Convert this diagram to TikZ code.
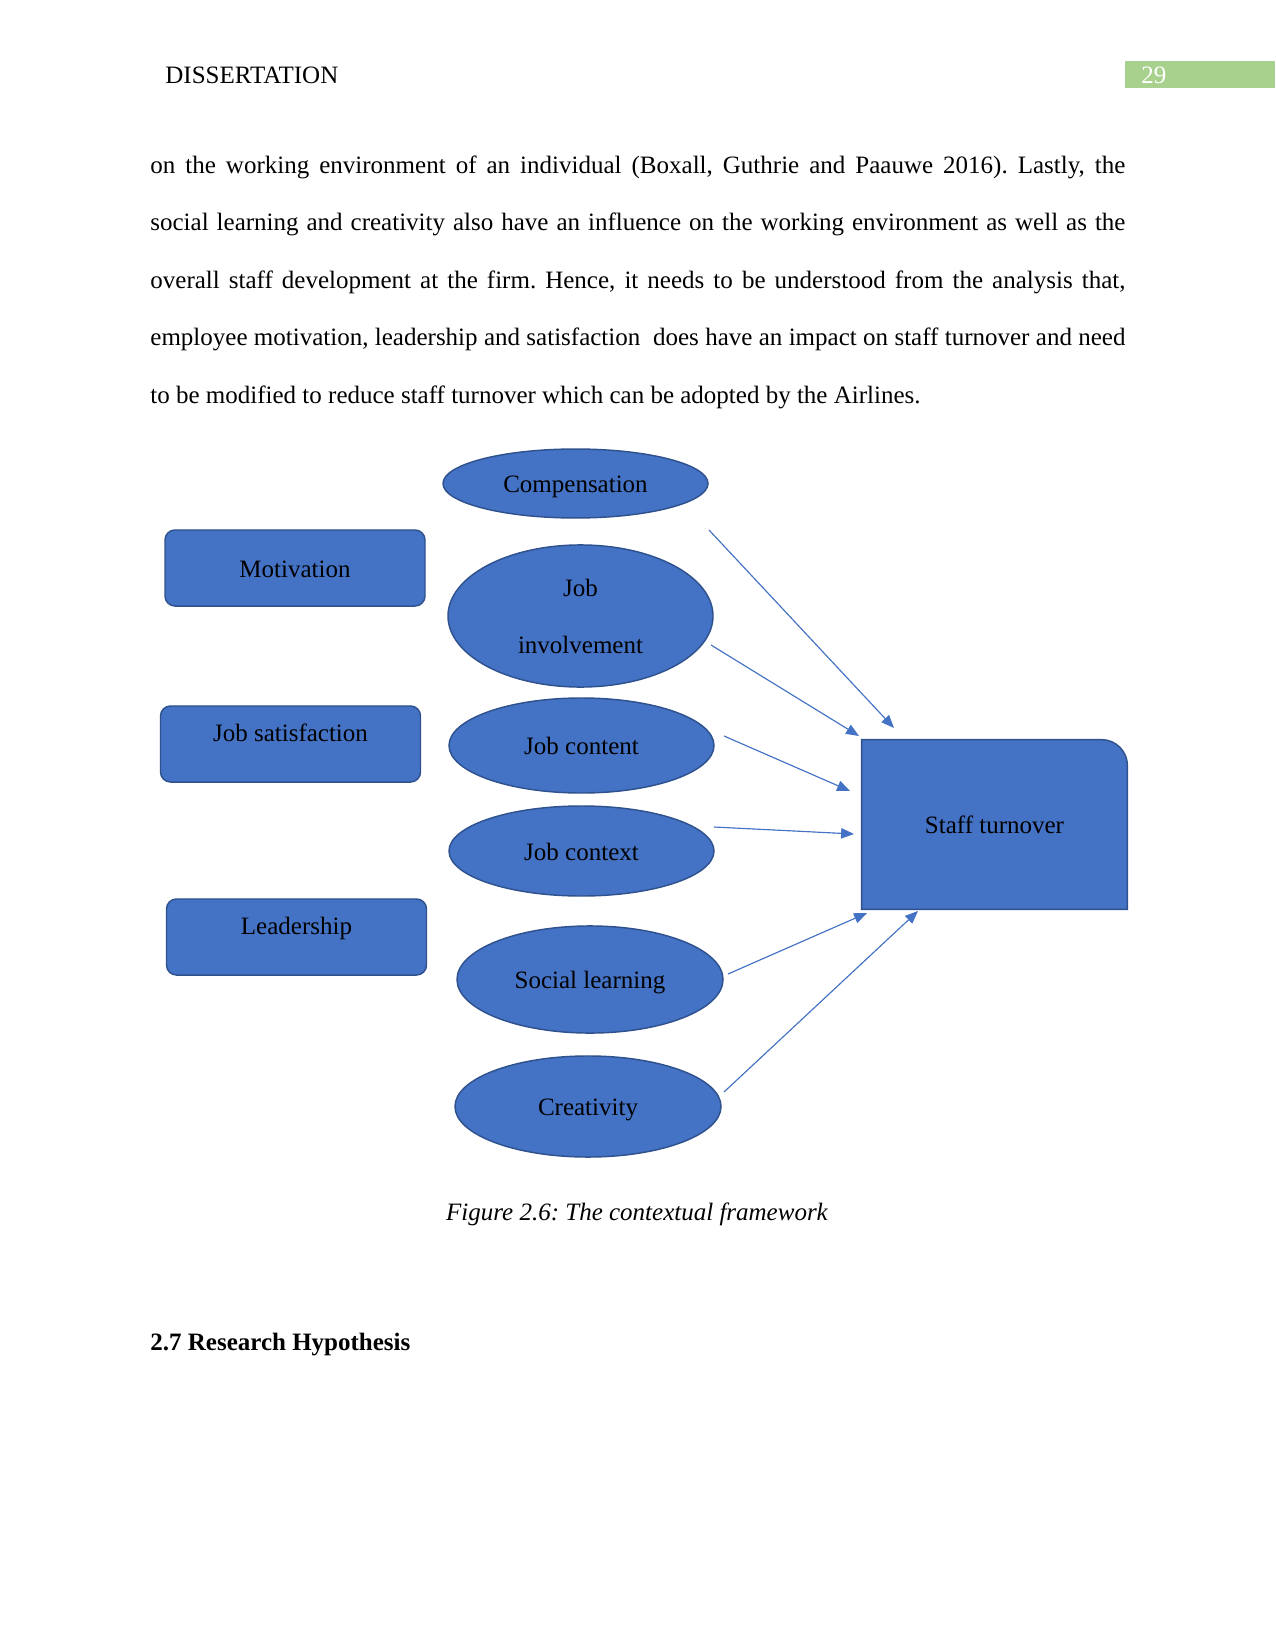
\documentclass[tikz,border=0pt]{standalone}
\usepackage{fontspec}
\setmainfont{Liberation Serif}
\frenchspacing
\usetikzlibrary{shapes.geometric,arrows.meta,backgrounds}
\definecolor{ublue}{HTML}{4472C4}
\definecolor{ubluedark}{HTML}{2F528F}
\definecolor{pggreen}{HTML}{A9D18E}
\tikzset{
  ell/.style={ellipse, fill=ublue, draw=ubluedark, line width=0.7pt, inner sep=0pt, font=\fontsize{12}{14.5}\selectfont, align=center},
  fixbase/.style={text height=8.9pt, text depth=0pt},
  rbox/.style={rectangle, rounded corners=4.8pt, fill=ublue, draw=ubluedark, line width=0.7pt, inner sep=0pt, minimum width=124.8pt, minimum height=36.5pt, font=\fontsize{12}{14.5}\selectfont},
  arr/.style={draw=ublue, line width=0.55pt, -{Triangle[length=6.2pt,width=5pt]}, fill=ublue},
  bodyline/.style={anchor=base west, inner sep=0pt, font=\fontsize{12}{14.5}\selectfont}
}
\begin{document}
\begin{tikzpicture}[x=0.48pt,y=-0.48pt]
\useasboundingbox (0,0) rectangle (1275,1650);
% header
\node[bodyline] (hdr) at (165,84) {DISSERTATION};
\fill[pggreen] (1125,61) rectangle (1275,88);
\node[bodyline, text=white] (pg) at (1141,84) {29};
% body text
\node[bodyline] (l1) at (150,174) {\makebox[468pt][s]{on the working environment of an individual (Boxall, Guthrie and Paauwe 2016). Lastly, the}};
\node[bodyline] (l2) at (150,231) {\makebox[468pt][s]{social learning and creativity also have an influence on the working environment as well as the}};
\node[bodyline] (l3) at (150,289) {\makebox[468pt][s]{overall staff development at the firm. Hence, it needs to be understood from the analysis that,}};
\node[bodyline] (l4) at (150,346) {\makebox[468pt][s]{employee motivation, leadership and satisfaction\ \ does have an impact on staff turnover and need}};
\node[bodyline] (l5) at (150,404) {to be modified to reduce staff turnover which can be adopted by the Airlines.};
% left boxes
\node[rbox, fixbase] (mot) at (295,568) {Motivation};
\node[rbox, text height=8.5pt, text depth=11pt] (jsat) at (290.5,744) {Job satisfaction};
\node[rbox, text height=8.5pt, text depth=11pt] (lead) at (296.5,937) {Leadership};
% ellipses
\node[ell, fixbase, minimum width=127.2pt, minimum height=33.1pt] (comp) at (575.5,483.5) {Compensation};
\node[ell, minimum width=127.2pt, minimum height=68.2pt] (jinv) at (580.5,616) {Job\\[12.9pt]involvement};
\node[ell, fixbase, minimum width=127.2pt, minimum height=45.6pt] (jcont) at (581.5,745.5) {Job content};
\node[ell, fixbase, minimum width=127.2pt, minimum height=43.2pt] (jctx) at (581.5,851) {Job context};
\node[ell, fixbase, minimum width=127.7pt, minimum height=51.4pt] (soc) at (590,979.5) {Social learning};
\node[ell, fixbase, minimum width=127.7pt, minimum height=48.5pt] (cre) at (588,1106.5) {Creativity};
% staff turnover
\node[inner sep=0pt, minimum width=127.2pt, minimum height=81.1pt, font=\fontsize{12}{14.5}\selectfont] (st) at (994.5,824.5) {Staff turnover};
\begin{scope}[on background layer]
\filldraw[fill=ublue, draw=ubluedark, line width=0.7pt] (st.south west) -- (st.north west) -- ([xshift=-12.5pt]st.north east) arc[start angle=90, end angle=0, radius=12.5pt] -- (st.south east) -- cycle;
\end{scope}
% arrow end points
\coordinate (a1s) at (709,530);  \coordinate (a1e) at (894,728);
\coordinate (a2s) at (711,645);  \coordinate (a2e) at (859,736);
\coordinate (a3s) at (724,736);  \coordinate (a3e) at (850,791);
\coordinate (a4s) at (714,827);  \coordinate (a4e) at (854,834);
\coordinate (a5s) at (728,974);  \coordinate (a5e) at (867,913);
\coordinate (a6s) at (724,1092); \coordinate (a6e) at (918,911);
\draw[arr] (a1s) -- (a1e);
\draw[arr] (a2s) -- (a2e);
\draw[arr] (a3s) -- (a3e);
\draw[arr] (a4s) -- (a4e);
\draw[arr] (a5s) -- (a5e);
\draw[arr] (a6s) -- (a6e);
% caption
\node[anchor=base, inner sep=0pt, font=\fontsize{12}{14.5}\selectfont\itshape] (cap) at (637,1220) {Figure 2.6: The contextual framework};
% heading
\node[bodyline, font=\fontsize{12}{14.5}\selectfont\bfseries] (h27) at (150,1350) {2.7 Research Hypothesis};
\end{tikzpicture}
\end{document}
